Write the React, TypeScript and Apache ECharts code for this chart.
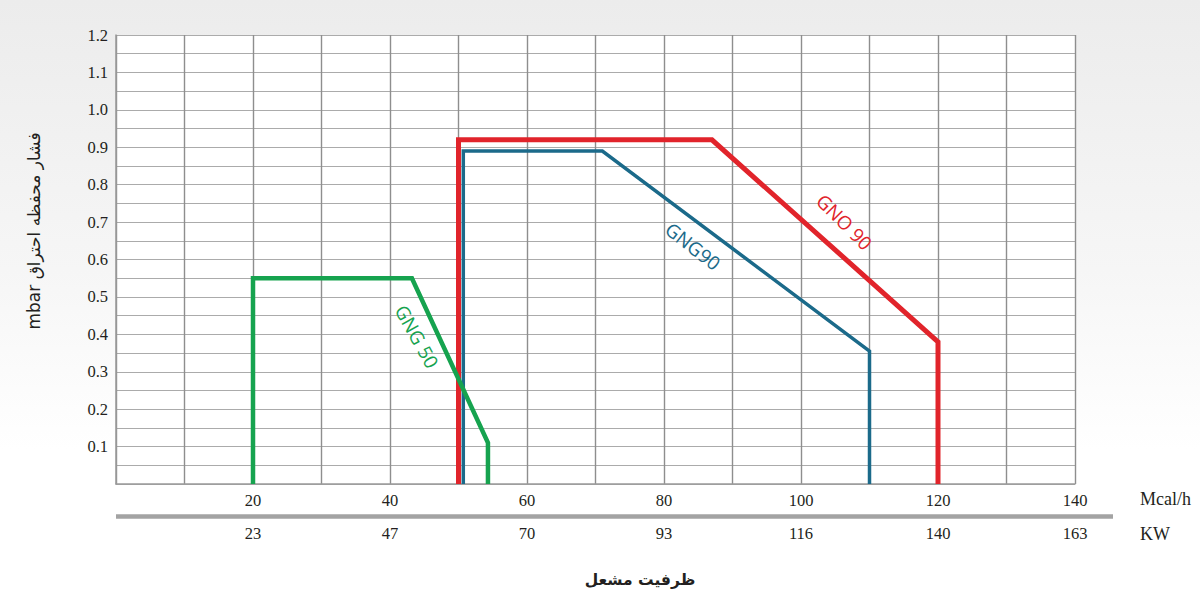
import React, { useEffect, useRef } from "react";
import * as echarts from "echarts";

// ---- data ----
const xTicks = [20, 40, 60, 80, 100, 120, 140]; // Mcal/h tick labels
const kwLabels = ["23", "47", "70", "93", "116", "140", "163"]; // KW tick labels

const gno90X = [50, 50, 87, 120, 120];
const gno90Y = [0, 0.92, 0.92, 0.38, 0];

const gng90X = [50.7, 50.7, 71, 110, 110];
const gng90Y = [0, 0.89, 0.89, 0.355, 0];

const gng50X = [20, 20, 43.2, 54.3, 54.3];
const gng50Y = [0, 0.55, 0.55, 0.11, 0];

const seriesNames = ["GNO 90", "GNG90", "GNG 50"];
// label anchor in data space [x, y] and rotation
const labelAnchors: [number, number][] = [
  [106.3, 0.7],
  [84.2, 0.635],
  [43.9, 0.394],
];
const labelRotations = [-45, -38, -61];

const colors = ["#e1242b", "#1b6a8a", "#16a34f"];
const widths = [5, 3.5, 4.5];

const yAxisTitle = "mbar فشار محفظه احتراق";
const xAxisTitle = "ظرفیت مشعل";
const unitTop = "Mcal/h";
const unitBottom = "KW";

const zip = (xs: number[], ys: number[]) => xs.map((x, i) => [x, ys[i]]);

export default function App() {
  const ref = useRef<HTMLDivElement>(null);

  useEffect(() => {
    document.body.style.margin = "0";
    if (!ref.current) return;
    const chart = echarts.init(ref.current, null, { renderer: "svg" });

    const serif = "Liberation Serif";
    const sans = "DejaVu Sans";
    const dataSets = [zip(gno90X, gno90Y), zip(gng90X, gng90Y), zip(gng50X, gng50Y)];

    chart.setOption({
      animation: false,
      backgroundColor: "transparent",
      grid: {
        left: 116,
        right: 125,
        top: 35,
        bottom: 116,
        show: true,
        backgroundColor: "#ffffff",
        borderWidth: 0,
      },
      xAxis: [
        {
          type: "value",
          min: 0,
          max: 140,
          interval: 10,
          axisLine: { show: true, lineStyle: { color: "#9a9a9a", width: 1.5 } },
          axisTick: { show: false },
          splitLine: { show: true, lineStyle: { color: "#8e8e8e", width: 1.4 } },
          axisLabel: {
            margin: 8,
            fontFamily: serif,
            fontSize: 16.5,
            color: "#231f20",
            formatter: (v: number) => (xTicks.indexOf(v) >= 0 ? String(v) : ""),
          },
        },
        {
          type: "value",
          min: 0,
          max: 140,
          interval: 10,
          position: "bottom",
          offset: 34,
          axisLine: { show: false },
          axisTick: { show: false },
          splitLine: { show: false },
          axisLabel: {
            margin: 7,
            fontFamily: serif,
            fontSize: 16.5,
            color: "#231f20",
            formatter: (v: number) => {
              const i = xTicks.indexOf(v);
              return i >= 0 ? kwLabels[i] : "";
            },
          },
        },
      ],
      yAxis: {
        type: "value",
        min: 0,
        max: 1.2,
        interval: 0.05,
        axisLine: { show: true, lineStyle: { color: "#9a9a9a", width: 1.5 } },
        axisTick: { show: false },
        splitLine: { show: true, lineStyle: { color: "#ababab", width: 1.2 } },
        axisLabel: {
          margin: 8,
          fontFamily: serif,
          fontSize: 16.5,
          color: "#231f20",
          padding: [0, 0, 6, 0],
          formatter: (v: number) => {
            const k = Math.round(v * 100);
            if (k === 0 || k % 10 !== 0) return "";
            return (k / 100).toFixed(1);
          },
        },
      },
      series: seriesNames.map((name, i) => ({
        name,
        type: "line",
        xAxisIndex: 0,
        data: dataSets[i],
        showSymbol: false,
        symbol: "none",
        z: 3 + i,
        lineStyle: { color: colors[i], width: widths[i], join: "miter", cap: "butt" },
        markPoint: {
          symbol: "circle",
          symbolSize: 0,
          silent: true,
          data: [
            {
              coord: labelAnchors[i],
              value: name,
              label: {
                show: true,
                position: "inside",
                formatter: name,
                rotate: labelRotations[i],
                fontFamily: "Open Sans",
                fontSize: 19,
                color: colors[i],
              },
            },
          ],
        },
      })),
      graphic: [
        {
          type: "rect",
          z: -100,
          silent: true,
          shape: { x: 0, y: 0, width: 1200, height: 600 },
          style: {
            fill: {
              type: "linear",
              x: 0,
              y: 0,
              x2: 0,
              y2: 1,
              colorStops: [
                { offset: 0, color: "#ececec" },
                { offset: 0.45, color: "#f6f6f6" },
                { offset: 0.75, color: "#ffffff" },
                { offset: 1, color: "#ffffff" },
              ],
            },
          },
        },
        {
          type: "line",
          silent: true,
          shape: { x1: 116, y1: 516.5, x2: 1113, y2: 516.5 },
          style: { stroke: "#a3a3a3", lineWidth: 4.5 },
        },
        {
          type: "text",
          x: 1140,
          y: 499,
          style: {
            text: unitTop,
            fontFamily: serif,
            fontSize: 18,
            fill: "#231f20",
            align: "left",
            verticalAlign: "middle",
          },
        },
        {
          type: "text",
          x: 1140,
          y: 534,
          style: {
            text: unitBottom,
            fontFamily: serif,
            fontSize: 18,
            fill: "#231f20",
            align: "left",
            verticalAlign: "middle",
          },
        },
        {
          type: "text",
          x: 640,
          y: 580,
          style: {
            text: xAxisTitle,
            fontFamily: sans,
            fontWeight: "bold",
            fontSize: 15.5,
            fill: "#231f20",
            align: "center",
            verticalAlign: "middle",
          },
        },
        {
          type: "text",
          x: 34,
          y: 231,
          rotation: Math.PI / 2,
          style: {
            text: yAxisTitle,
            fontFamily: sans,
            fontSize: 17,
            fill: "#231f20",
            align: "center",
            verticalAlign: "middle",
          },
        },
      ],
    });

    return () => chart.dispose();
  }, []);

  return <div ref={ref} style={{ width: 1200, height: 600 }} />;
}
